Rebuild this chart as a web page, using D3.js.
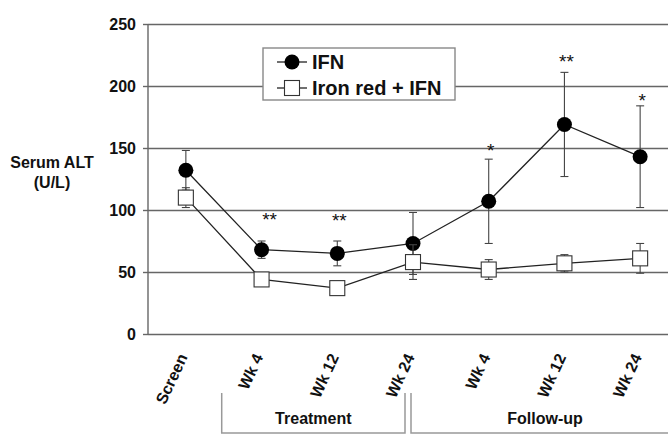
<!DOCTYPE html>
<html>
<head>
<meta charset="utf-8">
<script src="https://cdn.jsdelivr.net/npm/d3@7"></script>
<style>
  body { margin: 0; background: #fff; }
  text { font-family: "Liberation Sans", Arial, sans-serif; fill: #111; }
</style>
</head>
<body>
<div id="chart"></div>
<script>
// time points (keys) and their axis labels
var timepoints = ["Screen", "T4", "T12", "T24", "F4", "F12", "F24"]
var tickLabels = ["Screen", "Wk 4", "Wk 12", "Wk 24", "Wk 4", "Wk 12", "Wk 24"]
var yTicks = [0, 50, 100, 150, 200, 250]

// IFN series (mean, SE)
var ifnMean = [132, 68, 65, 73, 107, 169, 143]
var ifnErr = [16, 7, 10, 25, 34, 42, 41]

// Iron red + IFN series
var ironMean = [110, 44, 37, 58, 52, 57, 61]
var ironErr = [8, 3, 3, 14, 8, 7, 12]

// significance marks
var sigLabels = ["", "**", "**", "", "*", "**", "*"]
var sigY = [null, 96, 95, null, 152, 223, 192]

var seriesNames = ["IFN", "Iron red + IFN"]

var width = 668, height = 435

var svg = d3.select("#chart")
  .append("svg")
  .attr("width", width)
  .attr("height", height)

var x = d3.scalePoint()
  .domain(timepoints)
  .range([148, 678])
  .padding(0.5)

var y = d3.scaleLinear()
  .domain([0, 250])
  .range([334, 24])

// gridlines + y axis
svg.append("g")
  .attr("transform", "translate(148,0)")
  .call(d3.axisLeft(y).tickValues(yTicks).tickSize(5).tickPadding(7))
  .call(function (g) { g.select(".domain").remove() })
  .call(function (g) {
    g.selectAll(".tick line").attr("stroke", "#666").attr("stroke-width", 1.4)
    g.selectAll(".tick").append("line")
      .attr("x1", 0).attr("x2", width)
      .attr("stroke", "#666").attr("stroke-width", 1.4)
    g.selectAll(".tick text")
      .style("font-size", "16px").style("font-weight", "bold")
      .attr("fill", "#111")
      .attr("font-family", null)
  })

svg.append("line")
  .attr("x1", 148).attr("x2", 148)
  .attr("y1", y(250)).attr("y2", y(0))
  .attr("stroke", "#666").attr("stroke-width", 1.4)

// y label
svg.append("text")
  .attr("x", 52).attr("y", 168)
  .attr("text-anchor", "middle")
  .style("font-size", "16px").style("font-weight", "bold")
  .text("Serum ALT")
svg.append("text")
  .attr("x", 52).attr("y", 188)
  .attr("text-anchor", "middle")
  .style("font-size", "16px").style("font-weight", "bold")
  .text("(U/L)")

// x labels, rotated
svg.selectAll(".xlab")
  .data(timepoints)
  .enter()
  .append("text")
  .attr("text-anchor", "end")
  .attr("transform", function (d) { return "translate(" + (x(d) + 2) + ",357) rotate(-65)" })
  .style("font-size", "16px").style("font-weight", "bold")
  .text(function (d, i) { return tickLabels[i] })

// group brackets
var tL = (x("Screen") + x("T4")) / 2 - 2,
  tR = x("T24") - 8,
  fL = x("T24") - 2
svg.append("path")
  .attr("d", "M" + tL + ",393V433H" + tR + "V393")
  .attr("fill", "none").attr("stroke", "#999").attr("stroke-width", 1.5)
svg.append("path")
  .attr("d", "M" + fL + ",393V433H" + (width + 10))
  .attr("fill", "none").attr("stroke", "#999").attr("stroke-width", 1.5)
svg.append("text")
  .attr("x", (tL + tR) / 2).attr("y", 424)
  .attr("text-anchor", "middle")
  .style("font-size", "16px").style("font-weight", "bold")
  .text("Treatment")
svg.append("text")
  .attr("x", 545).attr("y", 424)
  .attr("text-anchor", "middle")
  .style("font-size", "16px").style("font-weight", "bold")
  .text("Follow-up")

// legend box
var legend = svg.append("g")
legend.append("rect")
  .attr("x", 263).attr("y", 48)
  .attr("width", 192).attr("height", 52)
  .attr("fill", "#fff").attr("stroke", "#888").attr("stroke-width", 1.4)

function drawSeries(mean, err, kind) {
  var line = d3.line()
    .x(function (d, i) { return x(timepoints[i]) })
    .y(function (d) { return y(d) })
  svg.append("path")
    .datum(mean)
    .attr("d", line)
    .attr("fill", "none").attr("stroke", "#222").attr("stroke-width", 1.3)

  var eb = svg.append("g").attr("stroke", "#444").attr("stroke-width", 1.1)
  eb.selectAll("line.v")
    .data(mean)
    .enter()
    .append("line")
    .attr("x1", function (d, i) { return x(timepoints[i]) })
    .attr("x2", function (d, i) { return x(timepoints[i]) })
    .attr("y1", function (d, i) { return y(d + err[i]) })
    .attr("y2", function (d, i) { return y(d - err[i]) })
  // caps
  ;[1, -1].forEach(function (s) {
    eb.selectAll("line.c" + s)
      .data(mean)
      .enter()
      .append("line")
      .attr("x1", function (d, i) { return x(timepoints[i]) - 4 })
      .attr("x2", function (d, i) { return x(timepoints[i]) + 4 })
      .attr("y1", function (d, i) { return y(d + s * err[i]) })
      .attr("y2", function (d, i) { return y(d + s * err[i]) })
  })

  if (kind == "circle") {
    svg.selectAll("dot")
      .data(mean)
      .enter()
      .append("circle")
      .attr("cx", function (d, i) { return x(timepoints[i]) })
      .attr("cy", function (d) { return y(d) })
      .attr("r", 7.5)
      .attr("fill", "#000")
  } else {
    svg.selectAll("sq")
      .data(mean)
      .enter()
      .append("rect")
      .attr("x", function (d, i) { return x(timepoints[i]) - 7.5 })
      .attr("y", function (d) { return y(d) - 7.5 })
      .attr("width", 15).attr("height", 15)
      .attr("fill", "#fff").attr("stroke", "#333").attr("stroke-width", 1.1)
  }
}

drawSeries(ifnMean, ifnErr, "circle")
drawSeries(ironMean, ironErr, "square")

// significance stars
sigLabels.forEach(function (s, i) {
  if (s == "") return
  svg.append("text")
    .attr("x", x(timepoints[i]) + (i == 1 ? 8 : 2))
    .attr("y", y(sigY[i]) + 11)
    .attr("text-anchor", "middle")
    .style("font-size", "19px")
    .text(s)
})

// legend entries
var ly = [62, 88]
ly.forEach(function (yy, i) {
  legend.append("line")
    .attr("x1", 277).attr("x2", 307)
    .attr("y1", yy).attr("y2", yy)
    .attr("stroke", "#222").attr("stroke-width", 1.3)
  if (i == 0) {
    legend.append("circle").attr("cx", 292).attr("cy", yy).attr("r", 7.5).attr("fill", "#000")
  } else {
    legend.append("rect").attr("x", 284.5).attr("y", yy - 7.5)
      .attr("width", 15).attr("height", 15)
      .attr("fill", "#fff").attr("stroke", "#333").attr("stroke-width", 1.1)
  }
  legend.append("text")
    .attr("x", 312).attr("y", yy + 7)
    .style("font-size", "20px").style("font-weight", "bold")
    .text(seriesNames[i])
})
</script>
</body>
</html>
